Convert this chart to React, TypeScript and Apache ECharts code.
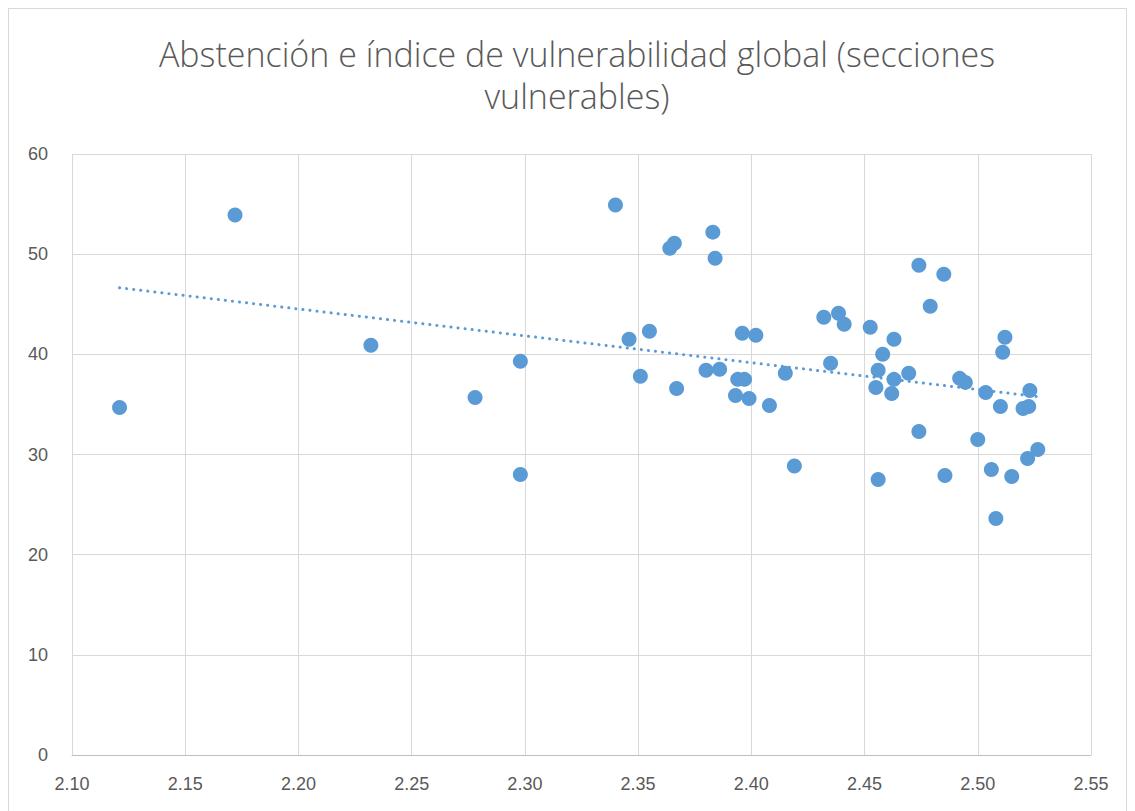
import React, { useEffect, useRef } from "react";
import * as echarts from "echarts";

const titleText = "Abstención e índice de vulnerabilidad global (secciones\nvulnerables)";

const indiceVulnerabilidad = [
  2.121, 2.172, 2.232, 2.278, 2.298, 2.298, 2.340, 2.346, 2.351, 2.355,
  2.364, 2.366, 2.367, 2.380, 2.383, 2.384, 2.386, 2.393, 2.394, 2.396,
  2.397, 2.399, 2.402, 2.408, 2.415, 2.419, 2.432, 2.435, 2.4385, 2.441,
  2.4525, 2.455, 2.456, 2.456, 2.458, 2.462, 2.463, 2.463, 2.4695, 2.474,
  2.474, 2.479, 2.485, 2.4855, 2.492, 2.4945, 2.500, 2.5035, 2.506, 2.508,
  2.510, 2.511, 2.512, 2.515, 2.520, 2.5225, 2.523, 2.522, 2.5265,
];

const abstencion = [
  34.7, 53.9, 40.9, 35.7, 39.3, 28.0, 54.9, 41.5, 37.8, 42.3,
  50.6, 51.1, 36.6, 38.4, 52.2, 49.6, 38.5, 35.9, 37.5, 42.1,
  37.5, 35.6, 41.9, 34.9, 38.1, 28.85, 43.7, 39.1, 44.1, 43.0,
  42.7, 36.7, 38.4, 27.5, 40.0, 36.1, 41.5, 37.5, 38.1, 32.3,
  48.9, 44.8, 48.0, 27.9, 37.6, 37.2, 31.5, 36.2, 28.5, 23.6,
  34.8, 40.2, 41.7, 27.8, 34.6, 34.8, 36.4, 29.6, 30.5,
];

const xTicks = { min: 2.1, max: 2.55, interval: 0.05 };
const yTicks = { min: 0, max: 60, interval: 10 };

function linearFit(xs: number[], ys: number[]) {
  const n = xs.length;
  const mx = xs.reduce((a, b) => a + b, 0) / n;
  const my = ys.reduce((a, b) => a + b, 0) / n;
  let sxy = 0;
  let sxx = 0;
  for (let i = 0; i < n; i++) {
    sxy += (xs[i] - mx) * (ys[i] - my);
    sxx += (xs[i] - mx) * (xs[i] - mx);
  }
  const slope = sxy / sxx;
  return { slope, intercept: my - slope * mx };
}

export default function App() {
  const ref = useRef<HTMLDivElement>(null);

  useEffect(() => {
    if (!ref.current) return;
    const chart = echarts.init(ref.current, undefined, { renderer: "svg" });
    const points = indiceVulnerabilidad.map((x, i) => [x, abstencion[i]]);
    const { slope, intercept } = linearFit(indiceVulnerabilidad, abstencion);
    const xMin = Math.min(...indiceVulnerabilidad);
    const xMax = Math.max(...indiceVulnerabilidad);
    const trend = [
      [xMin, intercept + slope * xMin],
      [xMax, intercept + slope * xMax],
    ];
    const labelFont = {
      fontFamily: "Liberation Sans",
      fontSize: 18,
      color: "#595959",
    };
    chart.setOption({
      animation: false,
      backgroundColor: "#ffffff",
      graphic: [
        {
          type: "text",
          x: 568,
          y: 24,
          silent: true,
          style: {
            text: titleText,
            align: "center",
            verticalAlign: "top",
            fontFamily: "Open Sans",
            fontWeight: 300,
            fontSize: 34,
            lineHeight: 42,
            fill: "#595959",
          },
        },
      ],
      grid: { left: 63, top: 145, width: 1019, height: 601, containLabel: false },
      xAxis: {
        type: "value",
        min: xTicks.min,
        max: xTicks.max,
        interval: xTicks.interval,
        axisLine: { show: true, lineStyle: { color: "#bfbfbf", width: 1 } },
        axisTick: { show: false },
        splitLine: { show: true, lineStyle: { color: "#d9d9d9", width: 1 } },
        axisLabel: {
          ...labelFont,
          margin: 20,
          formatter: (v: number) => v.toFixed(2),
        },
      },
      yAxis: {
        type: "value",
        min: yTicks.min,
        max: yTicks.max,
        interval: yTicks.interval,
        axisLine: { show: false },
        axisTick: { show: false },
        splitLine: { show: true, lineStyle: { color: "#d9d9d9", width: 1 } },
        axisLabel: { ...labelFont, margin: 24 },
      },
      series: [
        {
          type: "line",
          data: trend,
          symbol: "none",
          silent: true,
          z: 1,
          lineStyle: {
            color: "#5b9bd5",
            width: 3,
            type: [0.1, 7],
            cap: "round",
          },
        },
        {
          type: "scatter",
          data: points,
          symbol: "circle",
          symbolSize: 15,
          z: 2,
          itemStyle: { color: "#5b9bd5", opacity: 1 },
        },
      ],
    });
    return () => chart.dispose();
  }, []);

  return (
    <div
      style={{
        width: 1119,
        height: 820,
        border: "1px solid #d9d9d9",
        boxSizing: "border-box",
        position: "relative",
        background: "#fff",
      }}
    >
      <div ref={ref} style={{ position: "absolute", left: 0, top: 0, width: 1117, height: 818 }} />
    </div>
  );
}
